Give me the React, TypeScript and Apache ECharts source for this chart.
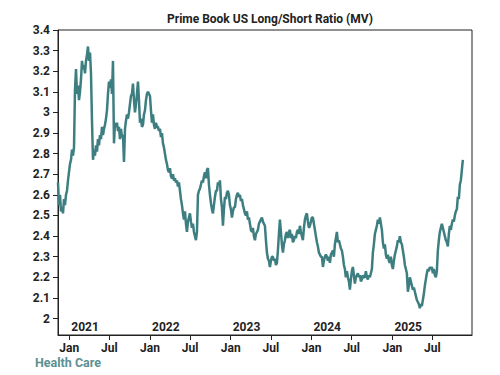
import React, { useEffect, useRef } from "react";
import * as echarts from "echarts";

const chartTitle = "Prime Book US Long/Short Ratio (MV)";
const footnote = "Health Care";

// series sampled at a regular cadence starting from seriesStart
const seriesStart = "2020-11-11";
const stepDays = 4.52;
const ratioValues = [
  2.66, 2.55, 2.6, 2.52, 2.54, 2.51, 2.58, 2.55, 2.6, 2.62, 2.67, 2.71, 2.75, 2.77, 2.82, 2.79, 2.83, 3.11, 3.21, 3.09,
  3.13, 3.06, 3.1, 3.16, 3.25, 3.21, 3.23, 3.19, 3.25, 3.28, 3.32, 3.25, 3.29, 3.19, 2.96, 2.77, 2.82, 2.79, 2.84, 2.81,
  2.87, 2.84, 2.89, 2.87, 2.93, 2.89, 2.92, 2.94, 2.97, 3.01, 3.09, 3.15, 3.12, 3.16, 3.09, 3.25, 2.85, 2.95, 2.93, 2.95,
  2.91, 2.93, 2.87, 2.92, 2.88, 2.89, 2.76, 2.92, 2.96, 2.99, 2.97, 3.0, 3.04, 3.08, 3.09, 3.14, 3.06, 3.0, 3.04, 3.09,
  3.15, 3.06, 2.95, 2.97, 2.93, 2.94, 2.99, 3.01, 3.06, 3.09, 3.1, 3.09, 3.08, 3.01, 2.95, 2.99, 2.94, 2.92, 2.95, 2.93,
  2.93, 2.91, 2.92, 2.88, 2.9, 2.85, 2.83, 2.8, 2.77, 2.75, 2.72, 2.71, 2.73, 2.69, 2.68, 2.7, 2.67, 2.68, 2.66, 2.67,
  2.64, 2.66, 2.62, 2.58, 2.55, 2.51, 2.48, 2.52, 2.46, 2.42, 2.47, 2.49, 2.51, 2.47, 2.44, 2.46, 2.42, 2.4, 2.38, 2.42,
  2.6, 2.62, 2.63, 2.65, 2.67, 2.66, 2.69, 2.71, 2.68, 2.72, 2.73, 2.65, 2.6, 2.56, 2.53, 2.51, 2.55, 2.59, 2.62, 2.62,
  2.66, 2.65, 2.67, 2.58, 2.54, 2.45, 2.53, 2.59, 2.58, 2.61, 2.62, 2.6, 2.55, 2.53, 2.49, 2.52, 2.54, 2.54, 2.58, 2.6,
  2.61, 2.59, 2.6, 2.57, 2.58, 2.55, 2.53, 2.51, 2.5, 2.52, 2.48, 2.49, 2.46, 2.43, 2.42, 2.44, 2.4, 2.38, 2.41, 2.42,
  2.43, 2.46, 2.47, 2.48, 2.49, 2.47, 2.46, 2.45, 2.38, 2.32, 2.29, 2.28, 2.25, 2.28, 2.3, 2.3, 2.28, 2.29, 2.26, 2.27,
  2.33, 2.41, 2.48, 2.42, 2.36, 2.32, 2.36, 2.38, 2.41, 2.42, 2.39, 2.42, 2.43, 2.39, 2.41, 2.37, 2.38, 2.4, 2.39, 2.42,
  2.43, 2.41, 2.45, 2.42, 2.4, 2.38, 2.44, 2.48, 2.5, 2.51, 2.47, 2.44, 2.45, 2.47, 2.49, 2.49, 2.46, 2.43, 2.4, 2.37,
  2.35, 2.32, 2.31, 2.3, 2.3, 2.25, 2.28, 2.3, 2.31, 2.3, 2.28, 2.3, 2.27, 2.31, 2.32, 2.33, 2.3, 2.36, 2.39, 2.42,
  2.37, 2.38, 2.36, 2.34, 2.33, 2.3, 2.26, 2.24, 2.2, 2.23, 2.2, 2.18, 2.14, 2.19, 2.23, 2.25, 2.21, 2.17, 2.2, 2.21,
  2.22, 2.2, 2.21, 2.18, 2.19, 2.21, 2.2, 2.2, 2.23, 2.2, 2.19, 2.21, 2.2, 2.22, 2.24, 2.32, 2.36, 2.41, 2.43, 2.45,
  2.48, 2.46, 2.49, 2.46, 2.43, 2.37, 2.34, 2.36, 2.31, 2.29, 2.31, 2.28, 2.27, 2.3, 2.26, 2.24, 2.28, 2.31, 2.33, 2.35,
  2.38, 2.37, 2.4, 2.37, 2.36, 2.33, 2.3, 2.26, 2.24, 2.22, 2.13, 2.16, 2.2, 2.18, 2.16, 2.14, 2.15, 2.13, 2.11, 2.09,
  2.08, 2.07, 2.05, 2.07, 2.06, 2.09, 2.12, 2.16, 2.19, 2.22, 2.24, 2.23, 2.25, 2.24, 2.25, 2.22, 2.24, 2.21, 2.2, 2.23,
  2.33, 2.38, 2.42, 2.44, 2.46, 2.44, 2.42, 2.4, 2.38, 2.37, 2.35, 2.41, 2.45, 2.43, 2.46, 2.48, 2.47, 2.5, 2.52, 2.53,
  2.59, 2.58, 2.65, 2.67, 2.72, 2.77,
];

const yTickValues = [2.0, 2.1, 2.2, 2.3, 2.4, 2.5, 2.6, 2.7, 2.8, 2.9, 3.0, 3.1, 3.2, 3.3, 3.4];
const yMin = 1.92;
const yMax = 3.4;
const xRange = ["2020-11-11", "2025-12-27"];
const halfYearTicks = [
  "2021-01-01", "2021-07-01", "2022-01-01", "2022-07-01", "2023-01-01",
  "2023-07-01", "2024-01-01", "2024-07-01", "2025-01-01", "2025-07-01",
];
const yearTicks = ["2021-01-01", "2022-01-01", "2023-01-01", "2024-01-01", "2025-01-01"];

const toTs = (s: string) => Date.parse(s + "T00:00:00Z");

export default function App() {
  const ref = useRef<HTMLDivElement>(null);
  useEffect(() => {
    if (!ref.current) return;
    const chart = echarts.init(ref.current, undefined, { renderer: "svg" });
    const start = toTs(seriesStart);
    const dayMs = 86400000;
    const data = ratioValues.map((v, i) => [start + i * stepDays * dayMs, v]);
    const font = "Roboto, 'Noto Sans', sans-serif";
    chart.setOption({
      animation: false,
      backgroundColor: "#ffffff",
      title: {
        text: chartTitle,
        left: 162,
        top: 8,
        textStyle: { fontFamily: font, fontSize: 12, fontWeight: "bold", color: "#222" },
      },
      graphic: [
        {
          type: "text",
          left: 35,
          top: 356,
          style: { text: footnote, fontFamily: font, fontSize: 12.5, fontWeight: "bold", fill: "#5c9091" },
        },
      ],
      grid: {
        left: 58,
        top: 30,
        right: 28,
        bottom: 40,
        show: true,
        borderColor: "#222",
        borderWidth: 1,
        backgroundColor: "#fff",
      },
      xAxis: [
        {
          type: "value",
          position: "bottom",
          min: toTs(xRange[0]),
          max: toTs(xRange[1]),
          splitLine: { show: false },
          axisLine: { show: true, lineStyle: { color: "#222", width: 1 } },
          axisTick: {
            show: true,
            length: 5,
            lineStyle: { color: "#222" },
            customValues: halfYearTicks.map(toTs),
          },
          axisLabel: {
            customValues: halfYearTicks.map(toTs),
            margin: 7,
            fontFamily: font,
            fontSize: 12,
            fontWeight: "bold",
            color: "#222",
            formatter: (v: number) => (new Date(v).getUTCMonth() === 0 ? "Jan" : "Jul"),
          },
        },
        {
          type: "value",
          position: "bottom",
          min: toTs(xRange[0]),
          max: toTs(xRange[1]),
          splitLine: { show: false },
          axisLine: { show: false },
          axisTick: { show: false },
          axisLabel: {
            inside: true,
            customValues: yearTicks.map(toTs),
            margin: 2,
            align: "left",
            padding: [0, 0, 0, 2],
            fontFamily: font,
            fontSize: 12,
            fontWeight: "bold",
            color: "#222",
            formatter: (v: number) => String(new Date(v).getUTCFullYear()),
          },
        },
      ],
      yAxis: {
        type: "value",
        min: yMin,
        max: yMax,
        splitLine: { show: false },
        axisLine: { show: true, lineStyle: { color: "#222", width: 1 } },
        axisTick: {
          show: true,
          length: 5,
          lineStyle: { color: "#222" },
          customValues: yTickValues,
        },
        axisLabel: {
          customValues: yTickValues,
          margin: 8,
          fontFamily: font,
          fontSize: 12,
          fontWeight: "bold",
          color: "#222",
          formatter: (v: number) => String(Math.round(v * 10) / 10),
        },
      },
      series: [
        {
          type: "line",
          xAxisIndex: 0,
          data,
          showSymbol: false,
          symbol: "none",
          lineStyle: { color: "#3d7e80", width: 2.5 },
        },
      ],
    });
    return () => chart.dispose();
  }, []);
  return <div ref={ref} style={{ position: "fixed", left: 0, top: 0, width: 500, height: 375 }} />;
}
